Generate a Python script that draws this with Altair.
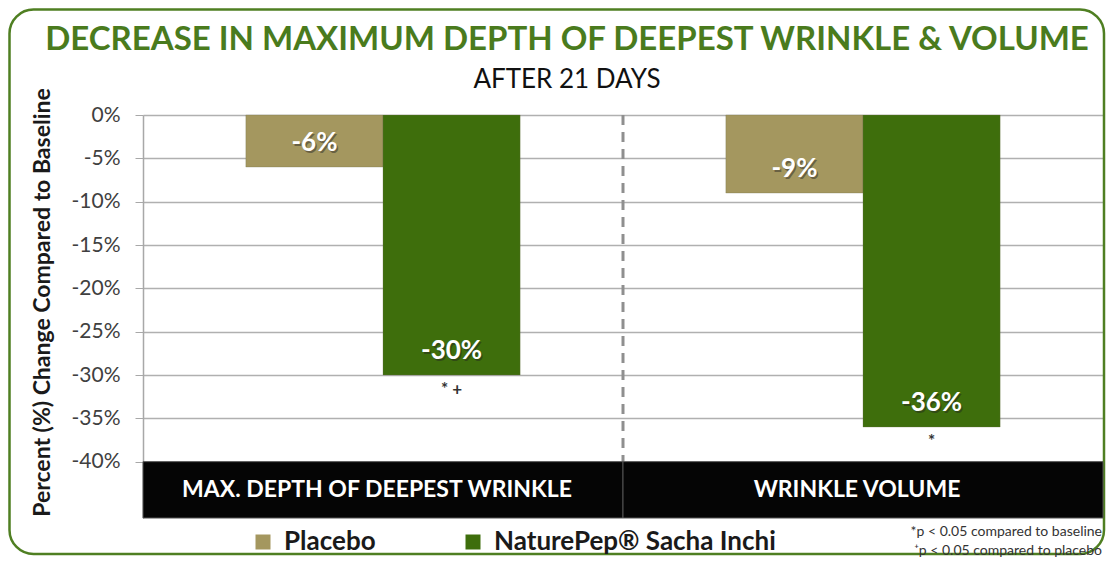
import altair as alt
import pandas as pd

# ---- data ----
groups = ["MAX. DEPTH OF DEEPEST WRINKLE", "WRINKLE VOLUME"]
series = ["Placebo", "NaturePep® Sacha Inchi"]
placebo_vals = [-6, -9]
naturepep_vals = [-30, -36]
sig_marks = ["* +", "*"]          # below NaturePep bars
y_ticks = [0, -5, -10, -15, -20, -25, -30, -35, -40]
title_text = "DECREASE IN MAXIMUM DEPTH OF DEEPEST WRINKLE & VOLUME"
subtitle_text = "AFTER 21 DAYS"
y_title = "Percent (%) Change Compared to Baseline"
footnote_1 = "*p < 0.05 compared to baseline"
footnote_2 = "⁺p < 0.05 compared to placebo"

colors = ["#a4975f", "#3e6e0c"]
TITLE_GREEN = "#4a7b1d"
FONT = "Lato"

bars = pd.DataFrame(
    {
        "group": groups * 2,
        "series": [series[0]] * 2 + [series[1]] * 2,
        "value": placebo_vals + naturepep_vals,
    }
)
bars["label"] = bars["value"].astype(str) + "%"
sig = pd.DataFrame({"group": groups, "series": [series[1]] * 2,
                    "value": naturepep_vals, "mark": sig_marks})
band = pd.DataFrame({"group": groups})
divider = pd.DataFrame({"group": [groups[1]]})
titles = pd.DataFrame({"t": [title_text]})
subs = pd.DataFrame({"t": [subtitle_text]})
note1 = pd.DataFrame({"t": [footnote_1]})
note2 = pd.DataFrame({"t": [footnote_2]})

W, H = 960, 403
BAND_TOP, BAND_BOTTOM = -40, -46.5

x_scale = alt.Scale(domain=groups, paddingInner=0, paddingOuter=0)
xo_scale = alt.Scale(domain=series, paddingInner=0, paddingOuter=0.75)
y_scale = alt.Scale(domain=[BAND_BOTTOM, 0], nice=False, zero=False)

x_enc = alt.X("group:N", scale=x_scale, axis=None, sort=groups)
xo_enc = alt.XOffset("series:N", scale=xo_scale, sort=series)
y_plain = alt.Y("value:Q", scale=y_scale)

y_axis = alt.Axis(
    values=y_ticks,
    labelExpr="toString(datum.value) + '%'",
    labelFont=FONT,
    labelFontSize=21,
    labelColor="#404040",
    labelPadding=15,
    tickSize=8,
    tickColor="#a8a8a8",
    domainColor="#a8a8a8",
    domainWidth=1.5,
    grid=True,
    gridColor="#b0b0b0",
    gridWidth=1.5,
    title=y_title,
    titleFont=FONT,
    titleFontSize=23,
    titleFontWeight="bold",
    titleColor="#1a1a1a",
    titleX=-101,
    titleY=187,
    titleAlign="center",
    titleBaseline="middle",
    titleAngle=-90,
)

bar_layer = alt.Chart(bars).mark_bar(stroke="#6b6b4a", strokeWidth=0.6, strokeOpacity=0.5).encode(
    x=x_enc,
    xOffset=xo_enc,
    y=alt.Y("value:Q", scale=y_scale, axis=y_axis),
    color=alt.Color(
        "series:N",
        scale=alt.Scale(domain=series, range=colors),
        sort=series,
        legend=alt.Legend(
            orient="none",
            legendX=107,
            legendY=414,
            direction="horizontal",
            title=None,
            symbolType="square",
            symbolSize=225,
            symbolStrokeWidth=0,
            symbolOpacity=1,
            labelFont=FONT,
            labelFontSize=26,
            labelFontWeight="bold",
            labelColor="#1a1a1a",
            labelLimit=500,
            columnPadding=84,
            labelOffset=8,
        ),
    ),
)

shadow_layer = alt.Chart(bars).mark_text(
    font=FONT, fontSize=26, fontWeight="bold", color="#222222", opacity=0.45,
    baseline="middle", dy=-22, dx=1.5,
).encode(x=x_enc, xOffset=xo_enc, y=y_plain, text="label:N")

label_layer = alt.Chart(bars).mark_text(
    font=FONT, fontSize=26, fontWeight="bold", color="white",
    baseline="middle", dy=-24,
).encode(x=x_enc, xOffset=xo_enc, y=y_plain, text="label:N")

sig_layer = alt.Chart(sig).mark_text(
    font=FONT, fontSize=17, fontWeight="bold", color="#333333", baseline="middle", dy=15,
).encode(x=x_enc, xOffset=xo_enc, y=y_plain, text="mark:N")

band_layer = alt.Chart(band).mark_rect(color="#050505", stroke="#555555", strokeWidth=1).encode(
    x=x_enc,
    y=alt.datum(BAND_TOP, scale=y_scale),
    y2=alt.datum(BAND_BOTTOM),
)

band_text = alt.Chart(band).mark_text(
    font=FONT, fontSize=23, fontWeight="bold", color="white", baseline="middle", dx=-6,
).encode(
    x=x_enc,
    y=alt.datum((BAND_TOP + BAND_BOTTOM) / 2, scale=y_scale),
    text="group:N",
)

divider_layer = alt.Chart(divider).mark_rule(
    color="#8f8f8f", strokeWidth=3, strokeDash=[10, 7]
).encode(
    x=alt.X("group:N", scale=x_scale, axis=None, sort=groups, bandPosition=0),
    y=alt.datum(0, scale=y_scale),
    y2=alt.datum(BAND_TOP),
)

title_layer = alt.Chart(titles).mark_text(
    font=FONT, fontSize=33, fontWeight="bold", color=TITLE_GREEN, baseline="middle", align="center",
).encode(x=alt.value(424), y=alt.value(-75), text="t:N")

sub_layer = alt.Chart(subs).mark_text(
    font=FONT, fontSize=26, color="#111111", baseline="middle", align="center",
).encode(x=alt.value(424), y=alt.value(-35), text="t:N")

note1_layer = alt.Chart(note1).mark_text(
    font=FONT, fontSize=14, color="#333333", baseline="middle", align="right",
).encode(x=alt.value(959), y=alt.value(417), text="t:N")

note2_layer = alt.Chart(note2).mark_text(
    font=FONT, fontSize=14, color="#333333", baseline="middle", align="right",
).encode(x=alt.value(959), y=alt.value(436), text="t:N")

border_layer = alt.Chart(titles).mark_rect(
    fillOpacity=0, stroke="#4f7f22", strokeWidth=2.5, cornerRadius=24,
).encode(x=alt.value(-133.5), x2=alt.value(961), y=alt.value(-105.5), y2=alt.value(439))

chart = (
    alt.layer(
        bar_layer,
        border_layer,
        divider_layer,
        band_layer,
        band_text,
        shadow_layer,
        label_layer,
        sig_layer,
        title_layer,
        sub_layer,
        note1_layer,
        note2_layer,
    )
    .properties(
        width=W,
        height=H,
        autosize=alt.AutoSizeParams(type="none"),
        padding={"left": 135, "top": 107, "right": 3, "bottom": 39},
    )
    .configure_view(stroke=None)
)

chart.save("out.html", embed_options={"renderer": "svg", "actions": False})
